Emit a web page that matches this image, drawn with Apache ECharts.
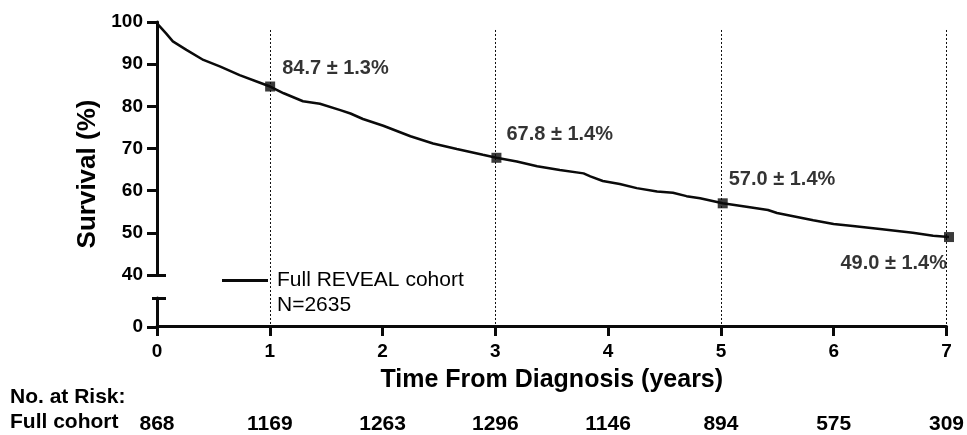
<!DOCTYPE html>
<html><head><meta charset="utf-8">
<script src="https://cdn.jsdelivr.net/npm/echarts@6/dist/echarts.min.js"></script>
<style>html,body{margin:0;padding:0;background:#fff}#c{width:967px;height:435px}</style>
</head><body><div id="c"></div>
<script>
// ---- data ----
const survT = [0, 0.01, 0.03, 0.08, 0.14, 0.26, 0.41, 0.56, 0.73, 0.91, 1.0, 1.12, 1.29, 1.44, 1.62, 1.71, 1.82, 2.0, 2.24, 2.44, 2.65, 2.88, 3.0, 3.18, 3.36, 3.56, 3.77, 3.83, 3.94, 4.09, 4.24, 4.42, 4.56, 4.68, 4.8, 5.0, 5.21, 5.4, 5.48, 5.8, 5.98, 6.15, 6.39, 6.68, 6.86, 7.0];
const survV = [100, 99.4, 98.8, 97.3, 95.4, 93.4, 91.0, 89.4, 87.4, 85.6, 84.7, 83.1, 81.2, 80.6, 79.1, 78.3, 77.0, 75.4, 72.9, 71.2, 69.9, 68.5, 67.8, 66.9, 65.8, 64.9, 64.1, 63.4, 62.3, 61.6, 60.6, 59.8, 59.5, 58.7, 58.2, 57.0, 56.2, 55.4, 54.7, 53.0, 52.1, 51.6, 50.9, 50.0, 49.3, 49.0];
const milestoneT = [1, 3, 5, 7];
const milestoneV = [84.7, 67.8, 57.0, 49.0];
const milestoneLabels = ['84.7 \u00b1 1.3%', '67.8 \u00b1 1.4%', '57.0 \u00b1 1.4%', '49.0 \u00b1 1.4%'];
const atRisk = ['868', '1169', '1263', '1296', '1146', '894', '575', '309'];
const seriesName = 'Full REVEAL cohort';
const cohortN = 'N=2635';

// ---- styles / layout ----
const FONT = "'Liberation Sans', Arial, Helvetica, sans-serif";
const INK = '#0a0a0a';
const TXT = '#000';
const LEFT = 157, RIGHT = 18, TOP = 22, UPPER_H = 253, FULL_H = 305, LOWER_TOP = 298;
const UP_MIN = 40, UP_MAX = 100;
const Y0MIN = UP_MAX - (UP_MAX - UP_MIN) * FULL_H / UPPER_H;
const DOT_TOP = 98.1;
const labelStyles = [
  {position: [17, -13.5], align: 'left'},
  {position: [15, -18], align: 'left'},
  {position: [11, -19], align: 'left'},
  {position: [3, 31], align: 'right'}
];
const axisLineStyle = {color: INK, width: 3};
const tickStyle = {color: INK, width: 3};
const boldText = {fontFamily: FONT, fontWeight: 'bold', color: TXT};

const chart = echarts.init(document.getElementById('c'), null, {renderer: 'canvas'});
const blankY = (grid, extra) => Object.assign({
  gridIndex: grid, type: 'value', position: 'left',
  axisLine: {show: false}, axisTick: {show: false}, axisLabel: {show: false}, splitLine: {show: false}
}, extra);

chart.setOption({
  animation: false,
  backgroundColor: '#fff',
  grid: [
    {left: LEFT, right: RIGHT, top: TOP, height: FULL_H},
    {left: LEFT, right: RIGHT, top: TOP, height: UPPER_H},
    {left: LEFT, right: RIGHT, top: LOWER_TOP, height: TOP + FULL_H - LOWER_TOP}
  ],
  title: [
    {text: 'No. at Risk:', left: 10, top: 387, padding: 0, textStyle: Object.assign({fontSize: 21}, boldText)},
    {text: 'Full cohort', left: 10, top: 412, padding: 0, textStyle: Object.assign({fontSize: 21}, boldText)},
    {text: cohortN, left: 277, top: 295, padding: 0, textStyle: {fontFamily: FONT, fontSize: 21, fontWeight: 'normal', color: TXT}}
  ],
  legend: {
    data: [seriesName], left: 222, top: 270, padding: 0, icon: 'rect', itemWidth: 46, itemHeight: 3,
    selectedMode: false, itemStyle: {color: INK},
    textStyle: {fontFamily: FONT, fontSize: 21, color: TXT, padding: [0, 0, 0, 4]}
  },
  xAxis: [
    {gridIndex: 0, type: 'value', min: 0, max: 7, interval: 1, position: 'bottom',
     axisLine: {lineStyle: axisLineStyle}, axisTick: {length: 10, lineStyle: tickStyle},
     splitLine: {show: false},
     axisLabel: Object.assign({margin: 16, fontSize: 19}, boldText),
     name: 'Time From Diagnosis (years)', nameLocation: 'middle', nameGap: 42,
     nameTextStyle: Object.assign({fontSize: 25}, boldText)},
    {gridIndex: 0, type: 'value', min: 0, max: 7, interval: 1, position: 'bottom', offset: 80,
     axisLine: {show: false}, axisTick: {show: false}, splitLine: {show: false},
     axisLabel: Object.assign({margin: 8, fontSize: 21, formatter: v => atRisk[v] || ''}, boldText)},
    {gridIndex: 1, type: 'value', min: 0, max: 7, show: false},
    {gridIndex: 2, type: 'value', min: 0, max: 7, show: false}
  ],
  yAxis: [
    blankY(0, {min: Y0MIN, max: UP_MAX, name: 'Survival (%)', nameLocation: 'middle', nameGap: 56, nameRotate: 90,
      nameTextStyle: Object.assign({fontSize: 26}, boldText)}),
    {gridIndex: 1, type: 'value', min: UP_MIN, max: UP_MAX, interval: 10, position: 'left',
     axisLine: {show: true, lineStyle: axisLineStyle}, axisTick: {show: true, length: 10, lineStyle: tickStyle},
     axisLabel: Object.assign({margin: 14, fontSize: 19}, boldText), splitLine: {show: false}},
    blankY(1, {min: UP_MIN, max: UP_MAX, axisTick: {show: true, inside: true, length: 9, customValues: [UP_MIN], lineStyle: tickStyle}}),
    {gridIndex: 2, type: 'value', min: 0, max: 7, position: 'left',
     axisLine: {show: true, lineStyle: axisLineStyle},
     axisTick: {show: true, length: 10, customValues: [0], lineStyle: tickStyle},
     axisLabel: Object.assign({margin: 14, fontSize: 19, customValues: [0]}, boldText), splitLine: {show: false}},
    blankY(2, {min: 0, max: 7, axisTick: {show: true, inside: true, length: 9, customValues: [7], lineStyle: tickStyle}}),
    blankY(2, {min: 0, max: 7, axisTick: {show: true, length: 5, customValues: [7], lineStyle: tickStyle}})
  ],
  series: [
    {name: 'guides', type: 'line', xAxisIndex: 0, yAxisIndex: 0, data: [], silent: true,
     markLine: {silent: true, symbol: 'none', label: {show: false},
       lineStyle: {color: '#111', width: 1, type: [2, 2]},
       data: milestoneT.map(t => [{coord: [t, DOT_TOP]}, {coord: [t, Y0MIN]}])}},
    {name: seriesName, type: 'line', xAxisIndex: 2, yAxisIndex: 1, showSymbol: false, symbol: 'none',
     lineStyle: {color: INK, width: 2.5}, itemStyle: {color: INK}, z: 5,
     data: survT.map((t, i) => [t, survV[i]])},
    {name: 'milestones', type: 'scatter', xAxisIndex: 2, yAxisIndex: 1, symbol: 'rect', symbolSize: 10,
     itemStyle: {color: INK}, z: 6,
     data: milestoneT.map((t, i) => ({
       value: [t, milestoneV[i]],
       label: {show: true, formatter: milestoneLabels[i], position: labelStyles[i].position,
               align: labelStyles[i].align, verticalAlign: 'middle',
               fontFamily: FONT, fontWeight: 'bold', fontSize: 20, color: TXT}
     }))}
  ]
});
</script></body></html>
